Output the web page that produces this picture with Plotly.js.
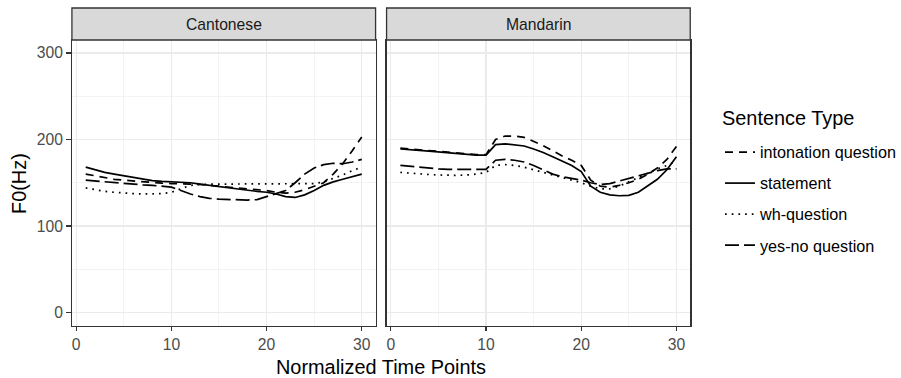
<!DOCTYPE html>
<html>
<head>
<meta charset="utf-8">
<script src="https://cdn.plot.ly/plotly-3.0.1.min.js"></script>
<style>html,body{margin:0;padding:0;background:#fff;}#chart{width:901px;height:378px;}</style>
</head>
<body>
<div id="chart"></div>
<script>
// Normalized time points
const timePoints = [1,2,3,4,5,6,7,8,9,10,11,12,13,14,15,16,17,18,19,20,21,22,23,24,25,26,27,28,29,30];
const panels = ["Cantonese", "Mandarin"];
const sentenceTypes = ["intonation question", "statement", "wh-question", "yes-no question"];
const legendTitle = "Sentence Type";

// Cantonese F0 (Hz)
const cantoneseIntonation = [160,158,156,154,153,152,151,150,149.5,149,149,148.5,148,147,146,145,144,143,142,141,139,138,139,142,146,150,160,172,187,203];
const cantoneseStatement  = [168,165,162,160,158,156,154,152.5,151.5,151,150.5,150,148.5,147,145.5,144,142.5,141,140,139,137,134,133,136,141,147,151,154,157,160];
const cantoneseWh         = [144,142,140,139,138,137.5,137,137,137.5,139,143,147,148,148.5,148.5,148.5,148.5,148.5,148.5,148.5,148.5,148.5,148.5,148.5,149,151,155,159,164,168];
const cantoneseYesNo      = [153,152,151,150,149,148,147.5,147,146,145,141,137,134,132,131,130.5,130,130,130.5,134,137,141,150,160,167,171,172.5,172,174,177];

// Mandarin F0 (Hz)
const mandarinIntonation = [190,189,188,187,186,185,184,183,182.5,182.5,200,204,204,202.5,198,193,187,181,176,170,153,146,145,147,150,154,160,167,177,192];
const mandarinStatement  = [189,188.5,187.5,186.5,185.5,184.5,183.5,182.5,182,182,194,195,194,192.5,189,185,180,175,170,163,146,139,136,135,135.5,139,146,154,165,180];
const mandarinWh         = [162,161,160,159.5,159,158.5,158.5,159,160,162,170,171,170,168,165,162,159,156,153,150,146,143,143,146,151,156,161,166,170,175];
const mandarinYesNo      = [170,169,167.5,166.5,166,165.5,165.5,165.5,165.5,165.5,176,177,176,174,170,165,160,157,155,153,150,148,149,152,155,158,161,164,166,166];

const seriesByPanel = {
  Cantonese: [cantoneseIntonation, cantoneseStatement, cantoneseWh, cantoneseYesNo],
  Mandarin: [mandarinIntonation, mandarinStatement, mandarinWh, mandarinYesNo]
};

const dashes = ["8px,6px", "solid", "1.7px,5px", "14px,5px"];

const W = 901, H = 378;
const px = v => v / W, py = v => 1 - v / H;
const FONT = "Liberation Sans, Arial, sans-serif";

const traces = [];
panels.forEach((p, pi) => {
  seriesByPanel[p].forEach((vals, si) => {
    traces.push({
      x: timePoints, y: vals, type: "scatter", mode: "lines",
      name: sentenceTypes[si], legendgroup: sentenceTypes[si],
      showlegend: pi === 0,
      xaxis: pi === 0 ? "x" : "x2", yaxis: pi === 0 ? "y" : "y2",
      line: {color: "#000000", width: 1.7, dash: dashes[si]},
      hoverinfo: "skip"
    });
  });
});

const tickFont = {family: FONT, size: 15.7, color: "#4D4D4D"};
const gridMajor = "#EBEBEB";

function xAxis(domain, anchor) {
  return {
    domain: domain, anchor: anchor, range: [-0.45, 31.45],
    tickvals: [0, 10, 20, 30], ticks: "outside", ticklen: 4.5, tickwidth: 1.2, tickcolor: "#333333",
    showline: true, mirror: true, linecolor: "#333333", linewidth: 1.3,
    showgrid: true, gridcolor: gridMajor, gridwidth: 1.2, zeroline: false,
    minor: {tickvals: [5, 15, 25], showgrid: true, gridcolor: gridMajor, gridwidth: 0.6},
    tickfont: tickFont, fixedrange: true
  };
}
function yAxis(domainY, anchor, labels) {
  return {
    domain: domainY, anchor: anchor, range: [-15, 315],
    tickvals: [0, 100, 200, 300], ticks: labels ? "outside" : "", ticklen: 4.5, tickwidth: 1.2, tickcolor: "#333333",
    showticklabels: labels,
    showline: true, mirror: true, linecolor: "#333333", linewidth: 1.3,
    showgrid: true, gridcolor: gridMajor, gridwidth: 1.2, zeroline: false,
    minor: {tickvals: [50, 150, 250], showgrid: true, gridcolor: gridMajor, gridwidth: 0.6},
    tickfont: tickFont, fixedrange: true
  };
}

const panelTop = 40, panelBottom = 325.5, stripTop = 8;
const xd1 = [px(72), px(376)], xd2 = [px(387), px(691)];
const yd = [py(panelBottom), py(panelTop)];

const shapes = [xd1, xd2].map(d => ({
  type: "rect", xref: "paper", yref: "paper",
  x0: d[0], x1: d[1], y0: py(panelTop), y1: py(stripTop),
  fillcolor: "#D9D9D9", line: {color: "#333333", width: 1.3}, layer: "above"
}));

const annotations = [
  {text: panels[0], x: (xd1[0] + xd1[1]) / 2, y: py((panelTop + stripTop) / 2), xref: "paper", yref: "paper", showarrow: false,
   xanchor: "center", yanchor: "middle", font: {family: FONT, size: 15.7, color: "#1A1A1A"}},
  {text: panels[1], x: (xd2[0] + xd2[1]) / 2, y: py((panelTop + stripTop) / 2), xref: "paper", yref: "paper", showarrow: false,
   xanchor: "center", yanchor: "middle", font: {family: FONT, size: 15.7, color: "#1A1A1A"}},
  {text: "Normalized Time Points", x: px(381.5), y: py(367), xref: "paper", yref: "paper", showarrow: false,
   xanchor: "center", yanchor: "middle", font: {family: FONT, size: 19.9, color: "#000000"}},
  {text: "F0(Hz)", x: px(19), y: py(183), xref: "paper", yref: "paper", showarrow: false, textangle: -90,
   xanchor: "center", yanchor: "middle", font: {family: FONT, size: 19.9, color: "#000000"}},
  {text: legendTitle, x: px(721), y: py(118), xref: "paper", yref: "paper", showarrow: false,
   xanchor: "left", yanchor: "middle", font: {family: FONT, size: 19.9, color: "#000000"}}
];

const layout = {
  width: W, height: H,
  margin: {l: 0, r: 0, t: 0, b: 0},
  paper_bgcolor: "#FFFFFF", plot_bgcolor: "#FFFFFF",
  xaxis: xAxis(xd1, "y"),
  yaxis: yAxis(yd, "x", true),
  xaxis2: xAxis(xd2, "y2"),
  yaxis2: yAxis(yd, "x2", false),
  shapes: shapes,
  annotations: annotations,
  showlegend: true,
  legend: {
    x: px(721), y: py(135), xanchor: "left", yanchor: "top",
    font: {family: FONT, size: 16.2, color: "#000000"},
    traceorder: "grouped", tracegroupgap: 7, bgcolor: "rgba(0,0,0,0)", borderwidth: 0
  }
};

Plotly.newPlot("chart", traces, layout, {displayModeBar: false, staticPlot: true});
</script>
</body>
</html>
